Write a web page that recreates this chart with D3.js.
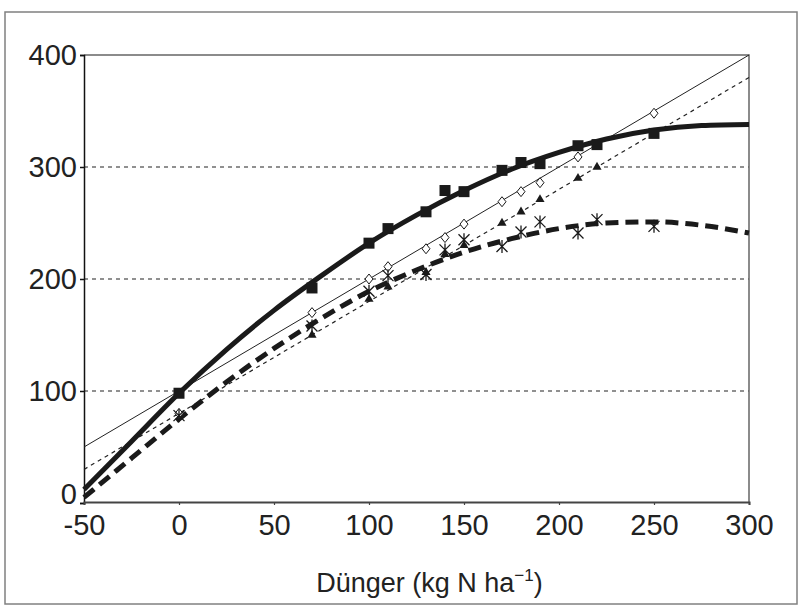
<!DOCTYPE html>
<html><head><meta charset="utf-8">
<script src="https://cdn.jsdelivr.net/npm/d3@7"></script>
<style>body{margin:0;background:#fff}svg{display:block}text{font-family:"Liberation Sans",Arial,sans-serif;fill:#222}</style>
</head><body>
<script>
// ---- data ----
const xTicks = [-50, 0, 50, 100, 150, 200, 250, 300];
const yTicks = [0, 100, 200, 300, 400];
const gridValues = [100, 200, 300];

const squareX = [0, 70, 100, 110, 130, 140, 150, 170, 180, 190, 210, 220, 250];
const squareY = [98, 192, 232, 245, 260, 279, 278, 297, 304, 303, 319, 320, 330];
const diamondX = [0, 70, 100, 110, 130, 140, 150, 170, 180, 190, 210, 220, 250];
const diamondY = [80, 170, 200, 211, 227, 237, 249, 269, 278, 286, 309, 320, 348];
const triangleX = [0, 70, 100, 110, 130, 140, 150, 170, 180, 190, 210, 220];
const triangleY = [80, 150, 182, 193, 206, 222, 230, 250, 260, 271, 290, 300];
const starX = [0, 70, 100, 110, 130, 140, 150, 170, 180, 190, 210, 220, 250];
const starY = [78, 158, 189, 203, 204, 226, 235, 229, 242, 251, 241, 253, 247];

const fitX = [-50, -25, 0, 25, 50, 75, 100, 125, 150, 175, 200, 225, 250, 275, 300];
const fitSquare = [12, 55, 98, 137, 172, 203, 232, 257, 279, 298, 313, 325, 333, 337, 338];
const fitStar = [5, 40, 75, 108, 138, 165, 189, 208, 224, 236, 245, 250, 251, 248, 241];
const fitLinX = [-50, 300];
const fitDiamond = [50, 400];
const fitTriangle = [30, 380];

const xTitle = "Dünger (kg N ha";

// ---- layout ----
const W = 801, H = 607;
const L = 84, R = 749, T = 55, B = 503;
const svg = d3.select("body").append("svg").attr("width", W).attr("height", H);

svg.append("rect").attr("x", 5).attr("y", 12).attr("width", 792).attr("height", 592)
  .attr("fill", "none").attr("stroke", "#808080").attr("stroke-width", 1.5);

const x = d3.scaleLinear().domain([-50, 300]).range([L, R]);
const y = d3.scaleLinear().domain([0, 400]).range([B, T]);

// gridlines
svg.append("g").selectAll("line").data(gridValues).join("line")
  .attr("x1", L).attr("x2", R).attr("y1", d => y(d)).attr("y2", d => y(d))
  .attr("stroke", "#222").attr("stroke-width", 1.2).attr("stroke-dasharray", "4,4");

// plot border top/right
svg.append("path").attr("d", `M${L},${T}H${R}V${B}`).attr("fill", "none")
  .attr("stroke", "#666").attr("stroke-width", 1.5);

// axes
const yAxis = svg.append("g").attr("transform", `translate(${L},0)`)
  .call(d3.axisLeft(y).tickValues(yTicks).tickSize(4).tickPadding(3).tickFormat(d => String(d)));
yAxis.select(".domain").attr("stroke", "#111").attr("stroke-width", 1.5);
yAxis.selectAll("text").style("font-size", "29px").attr("fill", "#2a2a2a")
  .attr("dy", d => d === 0 ? "-0.0em" : "0.32em");
yAxis.selectAll(".tick line").attr("stroke", "#111").attr("stroke-width", 1.5);

const xAxis = svg.append("g").attr("transform", `translate(0,${B - 1})`)
  .call(d3.axisBottom(x).tickValues(xTicks).tickSize(3).tickPadding(9).tickFormat(d => String(d)));
xAxis.select(".domain").attr("stroke", "#444").attr("stroke-width", 2);
xAxis.selectAll("text").style("font-size", "29px").attr("fill", "#2a2a2a");
xAxis.selectAll(".tick line").attr("stroke", "#444").attr("stroke-width", 1.2);

// axis title
const t = svg.append("text").attr("x", (L + R) / 2 + 13).attr("y", 592)
  .attr("text-anchor", "middle").style("font-size", "27px");
t.append("tspan").text(xTitle);
t.append("tspan").text("−1").attr("dy", -11).style("font-size", "17px");
t.append("tspan").text(")").attr("dy", 11);

// lines
const line = d3.line().x(d => x(d[0])).y(d => y(d[1]));
const curved = d3.line().x(d => x(d[0])).y(d => y(d[1])).curve(d3.curveMonotoneX);
const zip = (a, b) => a.map((v, i) => [v, b[i]]);

svg.append("path").attr("d", line(zip(fitLinX, fitDiamond))).attr("fill", "none")
  .attr("stroke", "#222").attr("stroke-width", 1);
svg.append("path").attr("d", line(zip(fitLinX, fitTriangle))).attr("fill", "none")
  .attr("stroke", "#222").attr("stroke-width", 1.2).attr("stroke-dasharray", "4,4");
svg.append("path").attr("d", curved(zip(fitX, fitStar))).attr("fill", "none")
  .attr("stroke", "#1a1a1a").attr("stroke-width", 5).attr("stroke-dasharray", "13,7");
svg.append("path").attr("d", curved(zip(fitX, fitSquare))).attr("fill", "none")
  .attr("stroke", "#1a1a1a").attr("stroke-width", 5);

// markers
const g = svg.append("g");
g.selectAll(".tri").data(zip(triangleX, triangleY)).join("path")
  .attr("d", d3.symbol(d3.symbolTriangle, 36))
  .attr("transform", d => `translate(${x(d[0])},${y(d[1])})`).attr("fill", "#1a1a1a");
g.selectAll(".dia").data(zip(diamondX, diamondY)).join("path")
  .attr("d", "M0,-5L4,0L0,5L-4,0Z")
  .attr("transform", d => `translate(${x(d[0])},${y(d[1])})`)
  .attr("fill", "#fff").attr("stroke", "#1a1a1a").attr("stroke-width", 1);
g.selectAll(".star").data(zip(starX, starY)).join("path")
  .attr("d", "M-5.5,-5.5L5.5,5.5M5.5,-5.5L-5.5,5.5M0,-6.5V6.5")
  .attr("transform", d => `translate(${x(d[0])},${y(d[1])})`)
  .attr("fill", "none").attr("stroke", "#1a1a1a").attr("stroke-width", 1.3);
g.selectAll(".sq").data(zip(squareX, squareY)).join("rect")
  .attr("x", d => x(d[0]) - 5.5).attr("y", d => y(d[1]) - 5.5)
  .attr("width", 11).attr("height", 11).attr("fill", "#1a1a1a");
</script>
</body></html>
